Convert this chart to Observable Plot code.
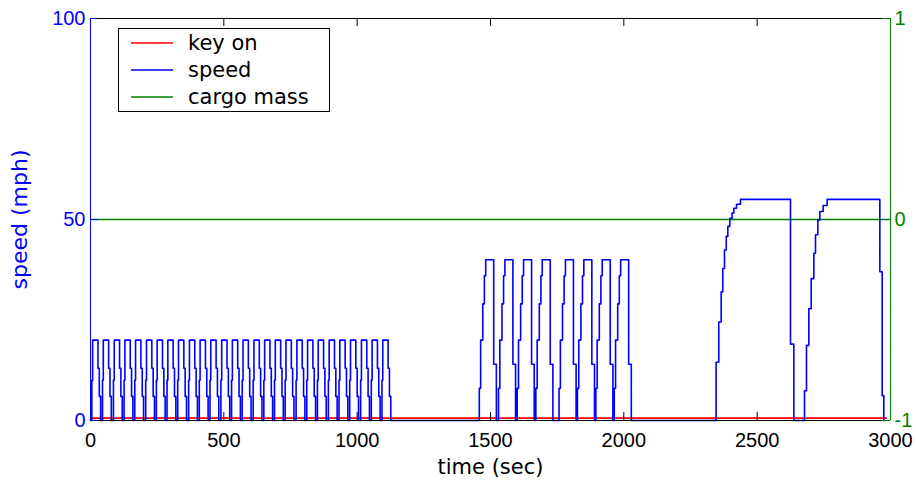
<!DOCTYPE html>
<html>
<head>
<meta charset="utf-8">
<script src="https://cdn.jsdelivr.net/npm/d3@7"></script>
<script src="https://cdn.jsdelivr.net/npm/@observablehq/plot@0.6"></script>
<style>
  html, body { margin: 0; padding: 0; background: #fff; }
  #wrap { position: relative; width: 916px; height: 480px; }
  #legend { position: absolute; left: 118px; top: 28px; width: 210px; height: 82px;
            border: 1px solid #000; background: #fff; }
</style>
</head>
<body>
<div id="wrap"></div>
<script>
// ---- data ----
const xTicks = [0, 500, 1000, 1500, 2000, 2500, 3000];
const yTicks = [0, 50, 100];
const rightTicks = [-1, 0, 1];

const legendNames = ["key on", "speed", "cargo mass"];
const lineColors = ["#ff0000", "#0000ff", "#008000"];

// key on signal
const keyOnTime = [0, 2985];
const keyOnValue = [0.6, 0.6];

// cargo mass (right axis)
const cargoTime = [0, 3000];
const cargoValue = [0, 0];

// urban cycles (peak 20 mph): start times and step profile (offset s, speed)
const cycle20Starts = [5, 45, 86, 126, 166, 207, 247, 287, 327, 368, 408, 448, 489, 529,
                       569, 610, 650, 690, 730, 771, 811, 851, 892, 932, 972, 1013, 1053, 1093];
const cycle20Offsets = [0, 3, 23, 28, 33];
const cycle20Speeds  = [10, 20, 13, 6, 0];

// suburban cycles (peak 40 mph)
const cycle40Starts = [1458, 1530, 1600, 1670, 1757, 1826, 1895, 1964];
const cycle40Offsets = [0, 5, 13, 19, 24, 54, 64];
const cycle40Speeds  = [8, 20, 29, 36, 40, 14, 0];

// highway runs (peak 55 mph)
const hwyTimes  = [2346, 2356, 2365, 2371, 2377.5, 2384, 2390, 2397.5, 2406, 2412.5, 2422.5, 2437.5,
                   2625, 2637.5,
                   2677.5, 2685, 2693.75, 2702.5, 2712.5, 2718.75, 2727.5, 2735, 2747.5, 2762.5,
                   2960, 2968.75, 2975];
const hwySpeeds = [14.5, 24.5, 32, 37.8, 42.4, 45.8, 48.3, 50.3, 51.6, 52.8, 53.8, 55,
                   19, 0,
                   7.4, 18.7, 27.8, 35.3, 41.6, 46.2, 49.9, 52, 53.5, 55,
                   37, 6.2, 0];

// ---- build tables ----
const speed = [{t: 0, v: 0}];
for (const s of cycle20Starts) cycle20Offsets.forEach((o, i) => speed.push({t: s + o, v: cycle20Speeds[i]}));
for (const s of cycle40Starts) cycle40Offsets.forEach((o, i) => speed.push({t: s + o, v: cycle40Speeds[i]}));
hwyTimes.forEach((t, i) => speed.push({t, v: hwySpeeds[i]}));

const keyOn = keyOnTime.map((t, i) => ({t, v: keyOnValue[i]}));
const cargo = cargoTime.map((t, i) => ({t, v: cargoValue[i]}));

const toLeft = d => (d + 1) * 50; // right axis [-1,1] onto left axis [0,100]

const W = 916, H = 480, mL = 90, mR = 26, mT = 18, mB = 60;
const pw = W - mL - mR, ph = H - mT - mB;
const BLUE = "#0000ff", GREEN = "#008000", RED = "#ff0000";
const font = "DejaVu Sans, sans-serif";
const numFont = "Liberation Sans, Arial, sans-serif";

const chart = Plot.plot({
  width: W, height: H,
  marginLeft: mL, marginRight: mR, marginTop: mT, marginBottom: mB,
  x: {domain: [0, 3000], axis: null},
  y: {domain: [0, 100], axis: null},
  style: {fontFamily: font, fontSize: "21px", background: "#fff"},
  marks: [
    Plot.line(cargo, {x: "t", y: d => toLeft(d.v), stroke: GREEN, strokeWidth: 1.6}),
    Plot.line(keyOn, {x: "t", y: "v", stroke: RED, strokeWidth: 1.6}),
    Plot.line(speed, {x: "t", y: "v", stroke: BLUE, strokeWidth: 1.6, curve: "step-after"}),
    // frame
    Plot.ruleY([0], {stroke: "#000"}),
    Plot.ruleY([100], {stroke: "#000"}),
    Plot.tickX(xTicks, {x: d => d, stroke: "#000", insetTop: ph - 8}),
    Plot.tickX(xTicks, {x: d => d, stroke: "#000", insetBottom: ph - 8}),
    Plot.ruleX([0], {stroke: BLUE}),
    Plot.tickY(yTicks, {y: d => d, stroke: BLUE, insetRight: pw - 8}),
    Plot.ruleX([3000], {stroke: GREEN}),
    Plot.tickY(rightTicks, {y: d => toLeft(d), stroke: GREEN, insetLeft: pw - 8}),
    // tick labels
    Plot.text(xTicks, {x: d => d, frameAnchor: "bottom", dy: 20, lineAnchor: "middle",
                       text: d => String(d), fill: "#000", fontFamily: numFont, fontSize: 20}),
    Plot.text(yTicks, {y: d => d, frameAnchor: "left", dx: -5, textAnchor: "end",
                       text: d => String(d), fill: BLUE, fontFamily: numFont, fontSize: 20}),
    Plot.text(rightTicks, {y: d => toLeft(d), frameAnchor: "right", dx: 4, textAnchor: "start",
                           text: d => String(d), fill: GREEN, fontFamily: numFont, fontSize: 20}),
    // axis titles
    Plot.text(["time (sec)"], {frameAnchor: "bottom", dy: 47, lineAnchor: "middle", textAnchor: "middle",
                               text: d => d, fill: "#000"}),
    Plot.text(["speed (mph)"], {frameAnchor: "left", dx: -71, rotate: -90, textAnchor: "middle",
                                lineAnchor: "middle", text: d => d, fill: BLUE, fontSize: 22})
  ]
});
document.getElementById("wrap").appendChild(chart);

// legend overlay
const lg = d3.select("#wrap").append("div").attr("id", "legend");
const svg = lg.append("svg").attr("width", 210).attr("height", 82);
legendNames.forEach((name, i) => {
  const y = 14 + i * 27;
  svg.append("line").attr("x1", 12).attr("x2", 54).attr("y1", y).attr("y2", y)
     .attr("stroke", lineColors[i]).attr("stroke-width", 1.5);
  svg.append("text").attr("x", 69).attr("y", y).attr("dy", "0.35em")
     .attr("font-family", font).attr("font-size", 21).attr("fill", "#000").text(name);
});
</script>
</body>
</html>
